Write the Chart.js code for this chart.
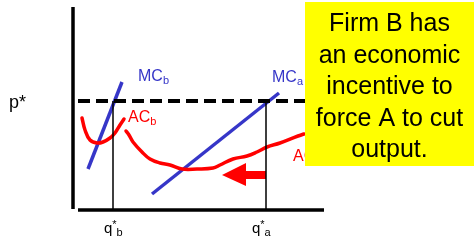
<!DOCTYPE html>
<html>
<head>
<meta charset="utf-8">
<script src="https://cdn.jsdelivr.net/npm/chart.js@4/dist/chart.umd.min.js"></script>
<style>
html,body{margin:0;padding:0;background:#fff;}
canvas{display:block;}
</style>
</head>
<body>
<canvas id="c" width="474" height="241"></canvas>
<script>
// ---- data (quantity, price) in diagram units, origin at the axes corner ----
const pStar = 108;
const qStarB = 40;
const qStarA = 193;
const mcB = [[15, 40], [49, 127]];
const mcA = [[79, 15], [206, 116]];
const acB = [[9, 91], [12, 79], [17, 69], [24, 66], [30, 67], [37, 71], [42, 76], [47, 84], [51, 90]];
const acA = [[53, 78], [56, 74], [60, 67], [69, 57], [77, 50], [87, 46], [97, 44], [109, 40], [124, 40],
             [140, 41], [147, 44], [160, 50], [174, 53], [184, 57], [194, 62], [207, 66], [225, 73], [231, 75]];
const arrowShape = [[149, 34], [173, 46], [173, 38], [193, 38], [193, 30], [173, 30], [173, 23], [149, 34]];
const yAxisLine = [[0, 0], [0, 202]];
const xAxisLine = [[5, -1], [251, -1]];
const pStarLine = [[5, pStar], [232, pStar]];
const qLineB = [[qStarB, pStar], [qStarB, 0]];
const qLineA = [[qStarA, pStar], [qStarA, 0]];
const boxText = ["Firm B has", "an economic", "incentive to", "force A to cut", "output."];

const BLUE = '#3636c8';
const RED = '#ff0000';
const pts = a => a.map(p => ({x: p[0], y: p[1]}));

function lineDs(data, color, width, extra) {
  return Object.assign({
    data: pts(data), showLine: true, borderColor: color, borderWidth: width,
    pointRadius: 0, fill: false, tension: 0, borderCapStyle: 'butt'
  }, extra || {});
}

const labels = [
  {x: 65, y: 128, main: 'MC', sub: 'b', color: BLUE, size: 16},
  {x: 55, y: 87, main: 'AC', sub: 'b', color: RED, size: 16},
  {x: 199, y: 127, main: 'MC', sub: 'a', color: BLUE, size: 16},
  {x: 220, y: 48, main: 'AC', sub: '', color: RED, size: 16},
  {x: -64, y: 101, main: 'p*', sub: '', color: '#000', size: 18},
  {x: 31, y: -24, main: 'q', sup: '*', sub: 'b', color: '#000', size: 15},
  {x: 179, y: -24, main: 'q', sup: '*', sub: 'a', color: '#000', size: 15}
];
const FONT = '"Liberation Sans", Arial, sans-serif';

const annot = {
  id: 'annot',
  afterDatasetsDraw(chart) {
    const ctx = chart.ctx, xs = chart.scales.x, ys = chart.scales.y;
    ctx.save();
    ctx.textBaseline = 'alphabetic';
    ctx.textAlign = 'left';
    labels.forEach(l => {
      let px = xs.getPixelForValue(l.x), py = ys.getPixelForValue(l.y);
      ctx.fillStyle = l.color;
      ctx.font = l.size + 'px ' + FONT;
      ctx.fillText(l.main, px, py);
      px += ctx.measureText(l.main).width;
      const small = Math.round(l.size * 0.7);
      if (l.sup) {
        ctx.font = small + 'px ' + FONT;
        ctx.fillText(l.sup, px, py - 5);
        px += ctx.measureText(l.sup).width;
      }
      if (l.sub) {
        ctx.font = small + 'px ' + FONT;
        ctx.fillText(l.sub, px, py + 3);
      }
    });
    // yellow text box
    const bx0 = xs.getPixelForValue(232), bx1 = xs.getPixelForValue(401);
    const by0 = ys.getPixelForValue(207), by1 = ys.getPixelForValue(43);
    ctx.fillStyle = '#ffff00';
    ctx.fillRect(bx0, by0, bx1 - bx0, by1 - by0);
    ctx.fillStyle = '#000';
    ctx.font = '25px ' + FONT;
    ctx.textAlign = 'center';
    const cx = (bx0 + bx1) / 2;
    boxText.forEach((t, i) => ctx.fillText(t, cx, by0 + 29 + i * 31.5));
    ctx.restore();
  }
};

new Chart(document.getElementById('c'), {
  type: 'scatter',
  data: {
    datasets: [
      lineDs(yAxisLine, '#000', 3.5),
      lineDs(xAxisLine, '#000', 3.5),
      lineDs(pStarLine, '#000', 4, {borderDash: [12, 6]}),
      lineDs(qLineB, '#000', 1.5),
      lineDs(qLineA, '#000', 1.5),
      lineDs(acB, RED, 3.5, {tension: 0.4, borderCapStyle: 'round', borderJoinStyle: 'round'}),
      lineDs(acA, RED, 3.5, {tension: 0.4, borderCapStyle: 'round', borderJoinStyle: 'round'}),
      lineDs(mcB, BLUE, 3.5),
      lineDs(mcA, BLUE, 3.5),
      lineDs(arrowShape, RED, 0, {fill: 'shape', backgroundColor: RED})
    ]
  },
  options: {
    responsive: false,
    animation: false,
    devicePixelRatio: 1,
    layout: {padding: 0},
    plugins: {legend: {display: false}, tooltip: {enabled: false}},
    scales: {
      x: {type: 'linear', display: false, min: -73, max: 401},
      y: {type: 'linear', display: false, min: -32, max: 209}
    }
  },
  plugins: [annot]
});
</script>
</body>
</html>
